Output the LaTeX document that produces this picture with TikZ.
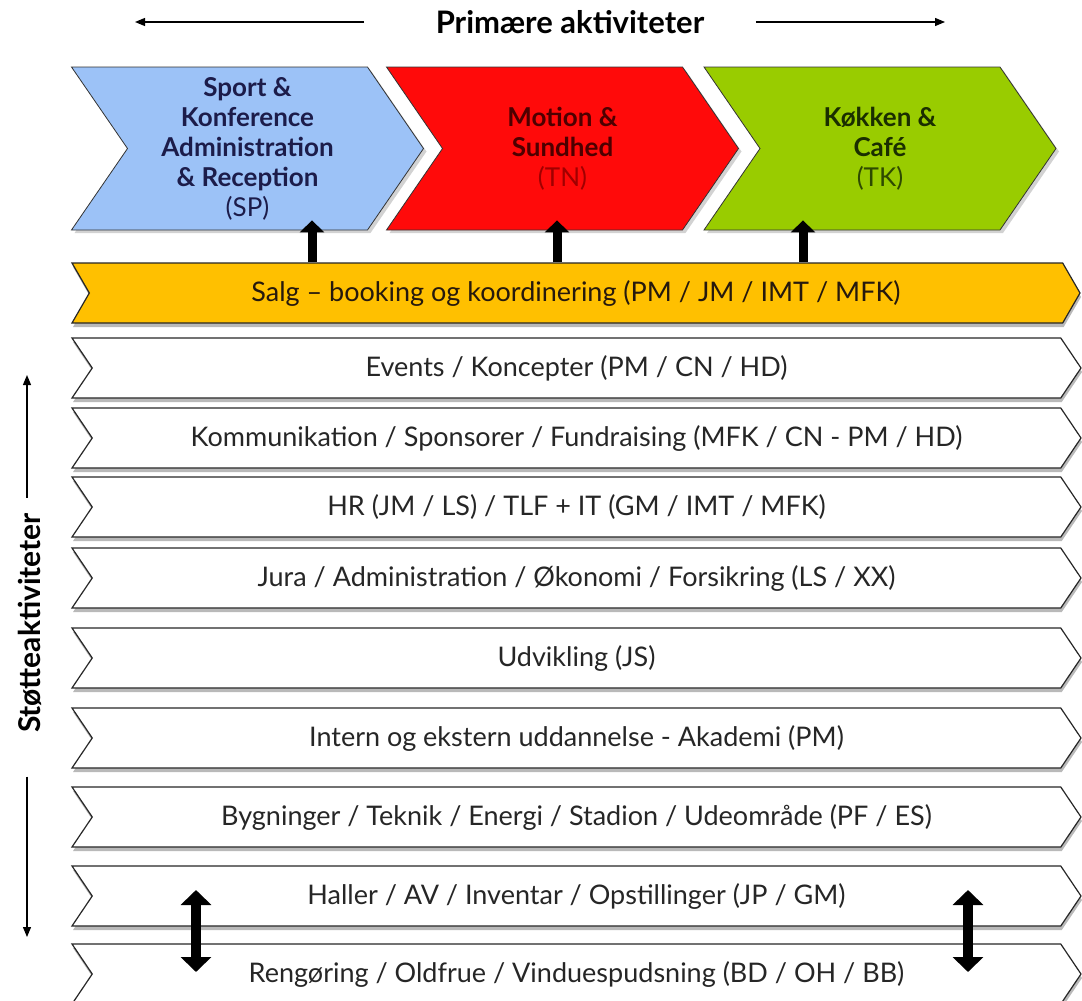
\documentclass[tikz,border=0pt]{standalone}
\usepackage{fontspec}
\setmainfont{Lato}
\usetikzlibrary{shapes.symbols,arrows.meta,shadows}

\definecolor{sportblue}{HTML}{9CC2F7}
\definecolor{motionred}{HTML}{FF0A0A}
\definecolor{kokkengreen}{HTML}{99CC00}
\definecolor{salgorange}{HTML}{FFC000}
\definecolor{navytext}{HTML}{1C1C4A}
\definecolor{redtext}{HTML}{4D0000}
\definecolor{redtextlight}{HTML}{A00000}
\definecolor{greentext}{HTML}{1A2E00}
\definecolor{greentextlight}{HTML}{2E4A00}

\tikzset{
  chev/.style={signal, signal from=west, signal to=east, signal pointer angle=111,
    draw=black!80, line width=0.8pt, minimum width=352pt, minimum height=163pt,
    inner sep=0pt, align=center, font=\bfseries\fontsize{26}{30}\selectfont,
    drop shadow={shadow xshift=3pt, shadow yshift=-3pt, fill=black!35}},
  bar/.style={signal, signal from=west, signal to=east, signal pointer angle=112,
    draw=black!85, line width=1.2pt, fill=white, minimum width=1009pt, minimum height=60pt,
    inner sep=0pt, text=black!85, font=\fontsize{27}{30}\selectfont,
    drop shadow={shadow xshift=1pt, shadow yshift=-4pt, fill=black!55}},
  salgbar/.style={bar, fill=salgorange, signal pointer angle=120, text=black!80!brown},
  fatarrow/.style={line width=9pt, -{Triangle[width=24pt,length=12pt]}},
  dblarrow/.style={line width=10pt, {Triangle[width=30pt,length=15pt]}-{Triangle[width=30pt,length=15pt]}},
  thinarrow/.style={line width=1.2pt, -{Triangle[width=8pt,length=10pt]}}
}

\begin{document}
\begin{tikzpicture}[x=1pt,y=-1pt]
\useasboundingbox (0,0) rectangle (1082,1001);

\def\barX{576.5}
\def\barH{60}

% primary activities header
\node[font=\bfseries\fontsize{31}{34}\selectfont] (prim) at (570,22) {Primære aktiviteter};
\coordinate (primL) at (135,22);
\coordinate (primR) at (945,22);
\draw[thinarrow, shorten <=68pt] (prim.west) -- (primL);
\draw[thinarrow, shorten <=48pt] (prim.east) -- (primR);

% primary chevrons
\node[chev, fill=sportblue, text=navytext] (sport) at (247.5,148.5)
  {Sport \&\\Konference\\Administration\\\& Reception\\{\mdseries (SP)}};
\node[chev, fill=motionred, text=redtext] (motion) at (562.5,148.5)
  {Motion \&\\Sundhed\\{\mdseries\color{redtextlight}(TN)}};
\node[chev, fill=kokkengreen, text=greentext] (kokken) at (880,148.5)
  {Køkken \&\\Café\\{\mdseries\color{greentextlight}(TK)}};

% sales bar
\node[salgbar, minimum width=1008pt] (salg) at (576,293)
  {Salg – booking og koordinering (PM / JM / IMT / MFK)};

% support bars
\node[bar] (events)  at (\barX,368) {Events / Koncepter (PM / CN / HD)};
\node[bar] (komm)    at (\barX,438) {Kommunikation / Sponsorer / Fundraising (MFK / CN - PM / HD)};
\node[bar] (hr)      at (\barX,507) {HR (JM / LS) / TLF + IT (GM / IMT / MFK)};
\node[bar] (jura)    at (\barX,578) {Jura / Administration / Økonomi / Forsikring (LS / XX)};
\node[bar] (udv)     at (\barX,658) {Udvikling (JS)};
\node[bar] (intern)  at (\barX,738) {Intern og ekstern uddannelse - Akademi (PM)};
\node[bar] (byg)     at (\barX,817) {Bygninger / Teknik / Energi / Stadion / Udeområde (PF / ES)};
\node[bar] (haller)  at (\barX,896) {Haller / AV / Inventar / Opstillinger (JP / GM)};
\node[bar] (reng)    at (\barX,974) {Rengøring / Oldfrue / Vinduespudsning (BD / OH / BB)};

% arrows from sales to primary activities
\coordinate (upA) at (312,0);
\coordinate (upB) at (557,0);
\coordinate (upC) at (803,0);
\draw[fatarrow] (salg.north -| upA) -- ([yshift=10pt]sport.south -| upA);
\draw[fatarrow] (salg.north -| upB) -- ([yshift=10pt]motion.south -| upB);
\draw[fatarrow] (salg.north -| upC) -- ([yshift=10pt]kokken.south -| upC);

% double arrows between the last bars
\coordinate (dblL) at (196,0);
\coordinate (dblR) at (968,0);
\draw[dblarrow] ([yshift=6pt]haller.center -| dblL) -- ([yshift=2pt]reng.center -| dblL);
\draw[dblarrow] ([yshift=6pt]haller.center -| dblR) -- ([yshift=2pt]reng.center -| dblR);

% support activities label
\node[rotate=90, font=\bfseries\fontsize{30}{34}\selectfont] (stotte) at (30,623) {Støtteaktiviteter};
\coordinate (stTop) at (27,375);
\coordinate (stBot) at (27,937);
\draw[thinarrow, shorten <=12pt] (stotte.east -| stTop) -- (stTop);
\draw[thinarrow, shorten <=40pt] (stotte.west -| stBot) -- (stBot);

\end{tikzpicture}
\end{document}
